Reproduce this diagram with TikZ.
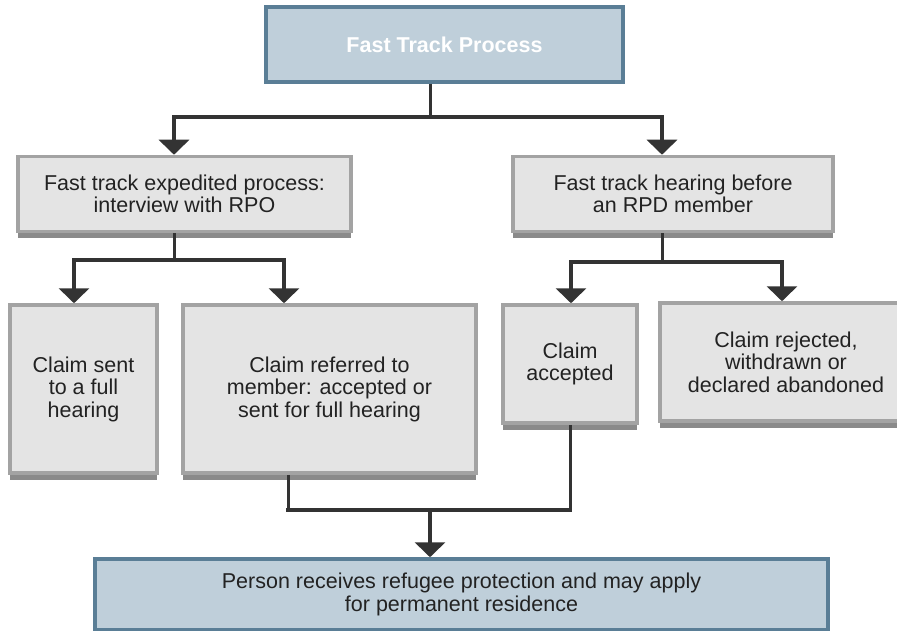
\documentclass[tikz,border=0pt]{standalone}
\usepackage{fontspec}
\setmainfont{Liberation Sans}
\usetikzlibrary{arrows.meta,shadows}
\definecolor{boxfill}{HTML}{E4E4E4}
\definecolor{boxline}{HTML}{A3A3A3}
\definecolor{boxshadow}{HTML}{8A8A8A}
\definecolor{bluefill}{HTML}{BFCFDA}
\definecolor{blueline}{HTML}{5A7E96}
\definecolor{conn}{HTML}{333333}
\definecolor{txt}{HTML}{222222}
\begin{document}
\begin{tikzpicture}[x=1pt,y=-1pt,
  graybox/.style={draw=boxline, line width=3.5pt, fill=boxfill, align=center, inner sep=0pt,
    general shadow={fill=boxshadow, shadow yshift=-6.5pt},
    font=\fontsize{21.5}{22.5}\selectfont, text=txt},
  bluebox/.style={draw=blueline, line width=3.5pt, fill=bluefill, align=center, inner sep=0pt,
    font=\fontsize{21.5}{22.5}\selectfont, text=txt},
  drop/.style={draw=conn, line width=3pt},
  bus/.style={draw=conn, line width=4.5pt, line cap=rect},
  arr/.style={draw=conn, line width=3.5pt, -{Triangle[width=30pt,length=15pt,fill=conn]}}
]
\clip (0,0) rectangle (897,631);
\fill[white] (0,0) rectangle (897,631);

% nodes
\node[bluebox, minimum width=357pt, minimum height=75pt, font=\fontsize{21.5}{23}\selectfont\bfseries, text=white]
  (top) at (444.5,44.5) {Fast Track Process};
\node[graybox, minimum width=333pt, minimum height=75pt] (A) at (184.5,194)
  {Fast track expedited process:\\interview with RPO};
\node[graybox, minimum width=320pt, minimum height=75pt] (B) at (673,194)
  {Fast track hearing before\\an RPD member};
\node[graybox, minimum width=147pt, minimum height=168pt] (C1) at (83.5,389)
  {Claim sent\\to a full\\hearing};
\node[graybox, minimum width=293pt, minimum height=168pt] (C2) at (329.5,389)
  {Claim referred to\\member: accepted or\\sent for full hearing};
\node[graybox, minimum width=134pt, minimum height=118pt] (C3) at (570,364)
  {Claim\\accepted};
\node[graybox, minimum width=252pt, minimum height=118pt] (C4) at (786,362)
  {Claim rejected,\\withdrawn or\\declared abandoned};
\node[bluebox, minimum width=733pt, minimum height=71pt] (D) at (461.5,594.5)
  {Person receives refugee protection and may apply\\for permanent residence};

% junction coordinates
\coordinate (j1) at (430,117);
\coordinate (j1l) at (174,117);
\coordinate (j1r) at (662,117);
\coordinate (j2) at (174,260);
\coordinate (j2l) at (74,260);
\coordinate (j2r) at (284,260);
\coordinate (j3) at (662,262);
\coordinate (j3l) at (571,262);
\coordinate (j3r) at (782,262);
\coordinate (j4l) at (288,510);
\coordinate (j4r) at (570,510);
\coordinate (j4) at (430,510);

% top level
\draw[drop] (top.south -| j1) -- (j1);
\draw[bus] (j1l) -- (j1r);
\draw[arr] (j1l) -- (A.north -| j1l);
\draw[arr] (j1r) -- (B.north -| j1r);

% left branch
\draw[drop] (A.south -| j2) -- (j2);
\draw[bus] (j2l) -- (j2r);
\draw[arr] (j2l) -- (C1.north -| j2l);
\draw[arr] (j2r) -- (C2.north -| j2r);

% right branch
\draw[drop] (B.south -| j3) -- (j3);
\draw[bus] (j3l) -- (j3r);
\draw[arr] (j3l) -- (C3.north -| j3l);
\draw[arr] (j3r) -- (C4.north -| j3r);

% merge to bottom
\draw[drop] (C2.south -| j4l) -- (j4l);
\draw[drop] (C3.south -| j4r) -- (j4r);
\draw[bus] (j4l) -- (j4r);
\draw[arr] (j4) -- (D.north -| j4);
\end{tikzpicture}
\end{document}
